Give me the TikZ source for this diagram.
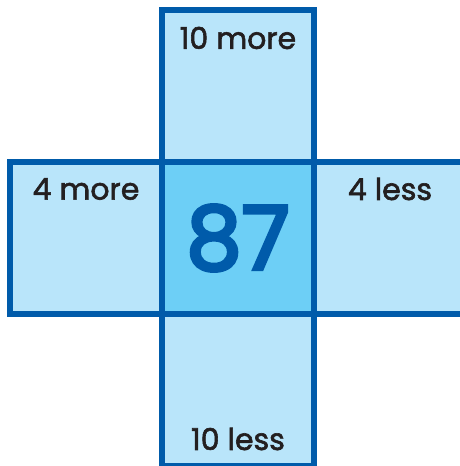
\documentclass[tikz,border=0pt]{standalone}
\usepackage{fontspec}
\setmainfont{Poppins}
\newfontfamily\lblfont[FakeBold=2]{Poppins}
\newfontfamily\numfont[FakeBold=4]{Poppins}
\definecolor{cellfill}{HTML}{B9E5FA}
\definecolor{centerfill}{HTML}{6DCFF6}
\definecolor{edgeblue}{HTML}{005BAA}
\definecolor{txt}{HTML}{231F20}
\begin{document}
\begin{tikzpicture}[x=1pt,y=-1pt,
  cell/.style={draw=edgeblue,line width=5.5pt,fill=cellfill,minimum width=152pt,minimum height=152pt,inner sep=0pt,outer sep=0pt},
  lbl/.style={text=txt,font=\lblfont\fontsize{30}{32}\selectfont,inner sep=0pt}]
\useasboundingbox (0,0) rectangle (460,466);
\clip (0,0) rectangle (460,466);
\node[cell] (top) at (238,86) {};
\node[cell] (left) at (86,238) {};
\node[cell] (right) at (390,238) {};
\node[cell] (bottom) at (238,390) {};
\node[cell,fill=centerfill] (mid) at (238,238) {};
\node[lbl] (ltop) at (238,38) {10 more};
\node[lbl] (lleft) at (86,189) {4 more};
\node[lbl] (lright) at (390,189) {4 less};
\node[lbl] (lbottom) at (238,439) {10 less};
\node[text=edgeblue,font=\numfont\fontsize{88}{90}\selectfont,inner sep=0pt] (num) at (238,238) {87};
\end{tikzpicture}
\end{document}
